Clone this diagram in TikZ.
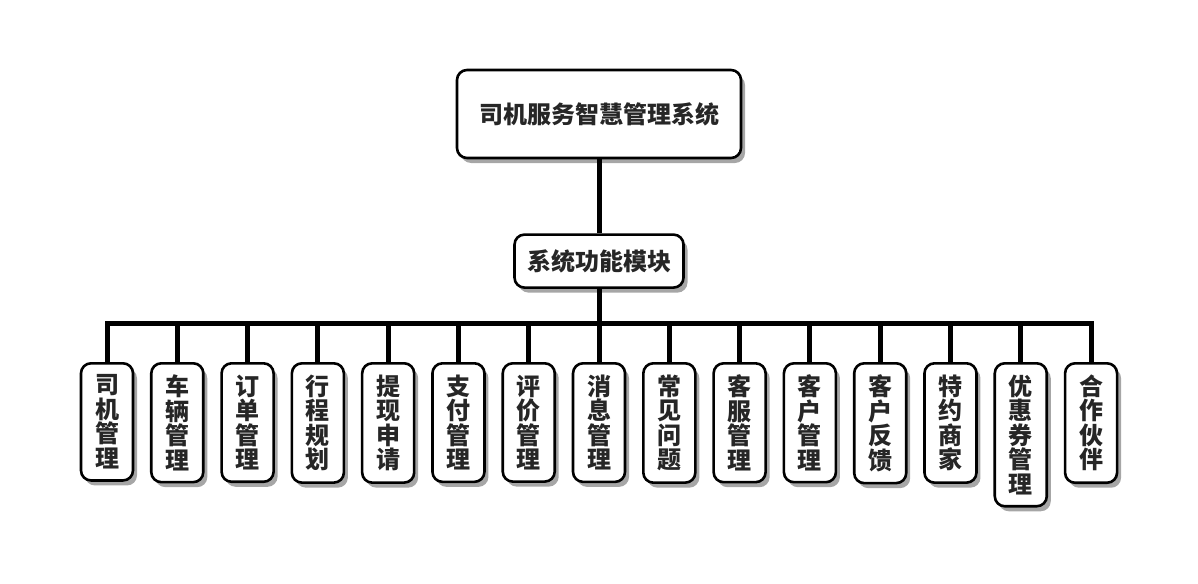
\documentclass[tikz,border=0pt]{standalone}
\usepackage{fontspec}
\setmainfont{Noto Sans CJK SC}
\usetikzlibrary{positioning, shadows}

\begin{document}
\begin{tikzpicture}[
  x=1pt, y=-1pt,
  node distance=74pt,
  box/.style={draw, line width=2.6pt, rounded corners=10pt, fill=white, align=center,
    font=\fontsize{24}{24.5}\selectfont\bfseries, text=black!85,
    drop shadow={shadow xshift=4pt, shadow yshift=-5pt, opacity=0.35, fill=black}},
  leaf/.style={box, anchor=north, minimum width=52pt, inner xsep=2pt, inner ysep=11.5pt},
  link/.style={line width=5pt}
]
\useasboundingbox (0,0) rectangle (1198,583);

\node[box, minimum width=284pt, minimum height=88pt] (root) at (599,114) {司机服务智慧管理系统};
\node[box, minimum width=169pt, minimum height=53pt, below=of root] (mods) {系统功能模块};
\coordinate (bus) at (599,323);

% function modules
\foreach \name [count=\i from 0] in {司\\机\\管\\理, 车\\辆\\管\\理, 订\\单\\管\\理, 行\\程\\规\\划,
    提\\现\\申\\请, 支\\付\\管\\理, 评\\价\\管\\理, 消\\息\\管\\理, 常\\见\\问\\题,
    客\\服\\管\\理, 客\\户\\管\\理, 客\\户\\反\\馈, 特\\约\\商\\家, 优\\惠\\券\\管\\理, 合\\作\\伙\\伴}
  \node[leaf] (m\i) at ({107+70.29*\i},362) {\name};

\draw[link] (root) -- (mods);
\foreach \i in {0,...,14}
  \draw[link] (mods.south) -- (bus) -| (m\i.north);
\end{tikzpicture}
\end{document}
